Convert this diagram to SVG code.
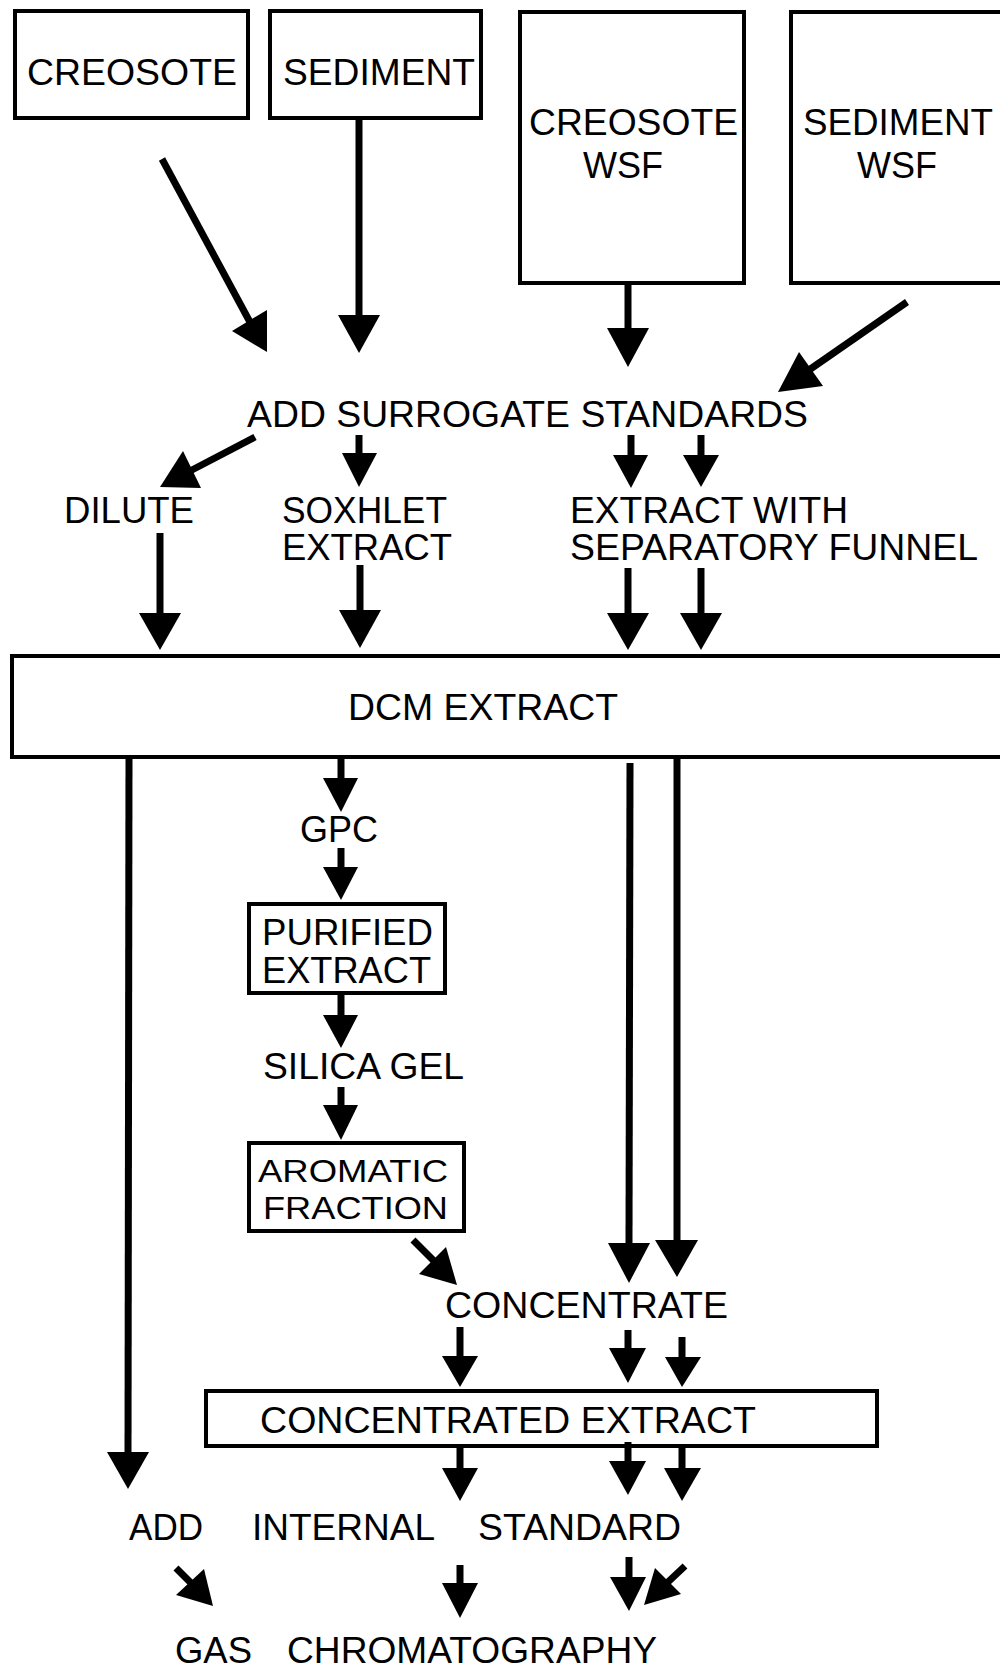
<svg xmlns="http://www.w3.org/2000/svg" width="1000" height="1670" viewBox="0 0 1000 1670">
<style>
  .box { fill: #fff; stroke: #000; stroke-width: 4; }
  .t { font-family: "Liberation Sans", Arial, Helvetica, sans-serif; font-size: 36px; fill: #000; }
  .sm { font-size: 32px; }
  .s { stroke: #000; stroke-width: 7; fill: none; stroke-linecap: butt; }
  .h { fill: #000; stroke: none; }
</style>
<rect width="1000" height="1670" fill="#fff"/>

<g id="creosote">
  <rect class="box" x="15" y="11" width="233" height="107"/>
  <text class="t" x="27" y="85" textLength="210" lengthAdjust="spacingAndGlyphs">CREOSOTE</text>
</g>
<g id="sediment">
  <rect class="box" x="270" y="11" width="211" height="107"/>
  <text class="t" x="283" y="85" textLength="192" lengthAdjust="spacingAndGlyphs">SEDIMENT</text>
</g>
<g id="creosote-wsf">
  <rect class="box" x="520" y="12" width="224" height="271"/>
  <text class="t" x="529" y="135" textLength="209" lengthAdjust="spacingAndGlyphs">CREOSOTE</text>
  <text class="t" x="583" y="178" textLength="80" lengthAdjust="spacingAndGlyphs">WSF</text>
</g>
<g id="sediment-wsf">
  <rect class="box" x="791" y="12" width="250" height="271"/>
  <text class="t" x="803" y="135" textLength="190" lengthAdjust="spacingAndGlyphs">SEDIMENT</text>
  <text class="t" x="857" y="178" textLength="80" lengthAdjust="spacingAndGlyphs">WSF</text>
</g>
<g id="add-surrogate">
  <text class="t" x="247" y="427" textLength="561" lengthAdjust="spacingAndGlyphs">ADD SURROGATE STANDARDS</text>
</g>
<g id="dilute">
  <text class="t" x="64" y="523" textLength="130" lengthAdjust="spacingAndGlyphs">DILUTE</text>
</g>
<g id="soxhlet">
  <text class="t" x="282" y="523" textLength="165" lengthAdjust="spacingAndGlyphs">SOXHLET</text>
  <text class="t" x="282" y="560" textLength="170" lengthAdjust="spacingAndGlyphs">EXTRACT</text>
</g>
<g id="sep-funnel">
  <text class="t" x="570" y="523" textLength="278" lengthAdjust="spacingAndGlyphs">EXTRACT WITH</text>
  <text class="t" x="570" y="560" textLength="408" lengthAdjust="spacingAndGlyphs">SEPARATORY FUNNEL</text>
</g>
<g id="dcm-extract">
  <rect class="box" x="12" y="656" width="1000" height="101"/>
  <text class="t" x="348" y="720" textLength="270" lengthAdjust="spacingAndGlyphs">DCM EXTRACT</text>
</g>
<g id="gpc">
  <text class="t" x="300" y="842" textLength="78" lengthAdjust="spacingAndGlyphs">GPC</text>
</g>
<g id="purified-extract">
  <rect class="box" x="249" y="904" width="196" height="89"/>
  <text class="t" x="262" y="945" textLength="171" lengthAdjust="spacingAndGlyphs">PURIFIED</text>
  <text class="t" x="262" y="983" textLength="169" lengthAdjust="spacingAndGlyphs">EXTRACT</text>
</g>
<g id="silica-gel">
  <text class="t" x="263" y="1079" textLength="201" lengthAdjust="spacingAndGlyphs">SILICA GEL</text>
</g>
<g id="aromatic-fraction">
  <rect class="box" x="249" y="1143" width="215" height="88"/>
  <text class="t sm" x="258" y="1182" textLength="190" lengthAdjust="spacingAndGlyphs">AROMATIC</text>
  <text class="t sm" x="263" y="1219" textLength="185" lengthAdjust="spacingAndGlyphs">FRACTION</text>
</g>
<g id="concentrate">
  <text class="t" x="445" y="1318" textLength="283" lengthAdjust="spacingAndGlyphs">CONCENTRATE</text>
</g>
<g id="concentrated-extract">
  <rect class="box" x="206" y="1391" width="671" height="55"/>
  <text class="t" x="260" y="1433" textLength="496" lengthAdjust="spacingAndGlyphs">CONCENTRATED EXTRACT</text>
</g>
<g id="add-internal-standard">
  <text class="t" x="129" y="1540" textLength="74" lengthAdjust="spacingAndGlyphs">ADD</text>
  <text class="t" x="252" y="1540" textLength="183" lengthAdjust="spacingAndGlyphs">INTERNAL</text>
  <text class="t" x="478" y="1540" textLength="203" lengthAdjust="spacingAndGlyphs">STANDARD</text>
</g>
<g id="gas-chromatography">
  <text class="t" x="175" y="1663" textLength="77" lengthAdjust="spacingAndGlyphs">GAS</text>
  <text class="t" x="287" y="1663" textLength="370" lengthAdjust="spacingAndGlyphs">CHROMATOGRAPHY</text>
</g>

<g id="connectors">
  <!-- creosote diagonal -->
  <line class="s" x1="162" y1="159" x2="251" y2="324"/>
  <polygon class="h" points="267,352 232,331 267,310"/>
  <!-- sediment down -->
  <line class="s" x1="359" y1="120" x2="359" y2="318"/>
  <polygon class="h" points="338,315 380,315 359,353"/>
  <!-- creosote wsf down -->
  <line class="s" x1="628" y1="285" x2="628" y2="331"/>
  <polygon class="h" points="607,328 649,328 628,367"/>
  <!-- sediment wsf diagonal -->
  <line class="s" x1="907" y1="302" x2="809" y2="370"/>
  <polygon class="h" points="778,392 799,352 823,386"/>
  <!-- add surrogate to dilute -->
  <line class="s" x1="255" y1="437" x2="190" y2="471"/>
  <polygon class="h" points="160,487 201,488 183,451"/>
  <!-- add surrogate to soxhlet -->
  <line class="s" x1="359" y1="435" x2="359" y2="456"/>
  <polygon class="h" points="342,453 377,453 359,487"/>
  <!-- add surrogate to separatory funnel -->
  <line class="s" x1="631" y1="435" x2="631" y2="458"/>
  <polygon class="h" points="613,455 648,455 631,488"/>
  <line class="s" x1="701" y1="435" x2="701" y2="458"/>
  <polygon class="h" points="683,455 719,455 701,487"/>
  <!-- to DCM extract -->
  <line class="s" x1="160" y1="533" x2="160" y2="616"/>
  <polygon class="h" points="139,613 181,613 160,650"/>
  <line class="s" x1="360" y1="565" x2="360" y2="613"/>
  <polygon class="h" points="339,610 381,610 360,648"/>
  <line class="s" x1="628" y1="568" x2="628" y2="616"/>
  <polygon class="h" points="607,613 649,613 628,650"/>
  <line class="s" x1="701" y1="568" x2="701" y2="616"/>
  <polygon class="h" points="680,613 722,613 701,650"/>
  <!-- DCM left long line to add internal standard -->
  <line class="s" x1="129" y1="759" x2="128" y2="1455"/>
  <polygon class="h" points="107,1452 149,1452 128,1489"/>
  <!-- DCM to GPC chain -->
  <line class="s" x1="341" y1="759" x2="341" y2="781"/>
  <polygon class="h" points="323,778 358,778 341,812"/>
  <line class="s" x1="341" y1="848" x2="341" y2="870"/>
  <polygon class="h" points="323,867 358,867 341,900"/>
  <line class="s" x1="341" y1="995" x2="341" y2="1018"/>
  <polygon class="h" points="323,1015 358,1015 341,1048"/>
  <line class="s" x1="341" y1="1087" x2="341" y2="1108"/>
  <polygon class="h" points="323,1105 358,1105 341,1140"/>
  <!-- aromatic fraction to concentrate -->
  <line class="s" x1="413" y1="1240" x2="435" y2="1262"/>
  <polygon class="h" points="457,1285 419,1274 446,1247"/>
  <!-- DCM long lines to concentrate -->
  <line class="s" x1="630" y1="763" x2="629" y2="1246"/>
  <polygon class="h" points="608,1243 650,1243 629,1283"/>
  <line class="s" x1="677" y1="759" x2="677" y2="1243"/>
  <polygon class="h" points="655,1240 698,1240 677,1277"/>
  <!-- concentrate to concentrated extract -->
  <line class="s" x1="460" y1="1327" x2="460" y2="1359"/>
  <polygon class="h" points="442,1356 478,1356 460,1387"/>
  <line class="s" x1="628" y1="1330" x2="628" y2="1351"/>
  <polygon class="h" points="609,1348 646,1348 628,1383"/>
  <line class="s" x1="682" y1="1337" x2="682" y2="1360"/>
  <polygon class="h" points="665,1357 701,1357 682,1387"/>
  <!-- concentrated extract to add internal standard -->
  <line class="s" x1="460" y1="1448" x2="460" y2="1471"/>
  <polygon class="h" points="442,1468 478,1468 460,1501"/>
  <line class="s" x1="628" y1="1442" x2="628" y2="1464"/>
  <polygon class="h" points="609,1461 646,1461 628,1495"/>
  <line class="s" x1="682" y1="1448" x2="682" y2="1471"/>
  <polygon class="h" points="664,1468 701,1468 682,1501"/>
  <!-- add internal standard to gas chromatography -->
  <line class="s" x1="176" y1="1568" x2="192" y2="1584"/>
  <polygon class="h" points="213,1606 176,1595 204,1569"/>
  <line class="s" x1="460" y1="1565" x2="460" y2="1586"/>
  <polygon class="h" points="442,1583 478,1583 460,1618"/>
  <line class="s" x1="629" y1="1557" x2="629" y2="1580"/>
  <polygon class="h" points="610,1577 646,1577 629,1611"/>
  <line class="s" x1="685" y1="1566" x2="668" y2="1582"/>
  <polygon class="h" points="644,1605 655,1568 681,1594"/>
</g>
</svg>
